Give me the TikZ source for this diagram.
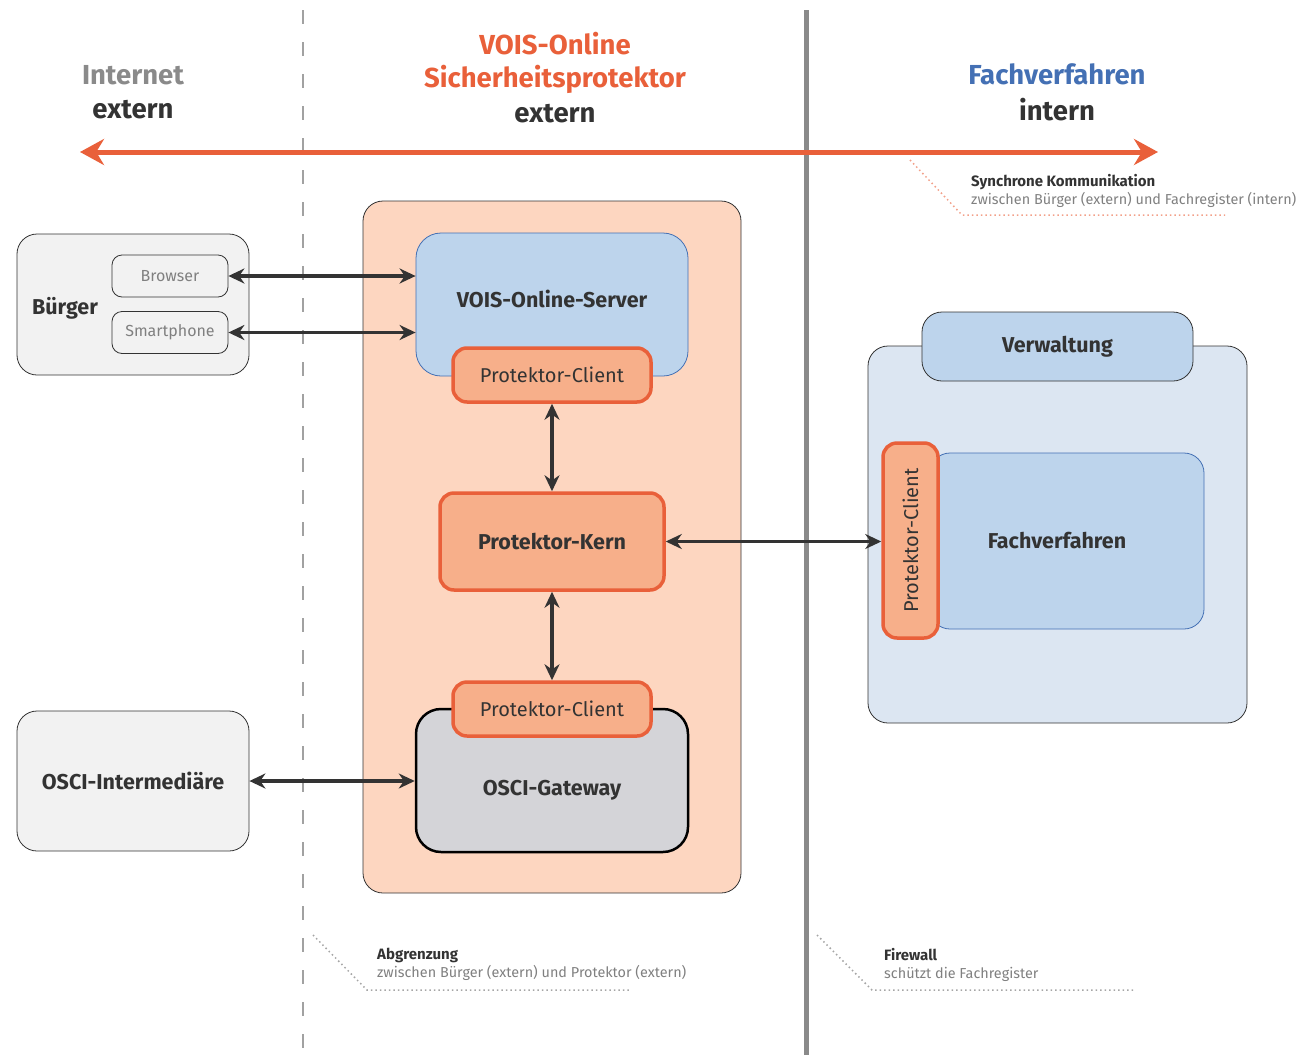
\documentclass[tikz,border=0pt]{standalone}
\usepackage{fontspec}
\setmainfont{Fira Sans}
\usepackage{tikz}
\usetikzlibrary{arrows.meta}

\definecolor{vorange}{HTML}{E9603A}
\definecolor{vpeach}{HTML}{FDD6C0}
\definecolor{vclient}{HTML}{F7AF8A}
\definecolor{vblue}{HTML}{4470B4}
\definecolor{vblueFill}{HTML}{BDD4EC}
\definecolor{vblueLight}{HTML}{DCE6F2}
\definecolor{vgrayFill}{HTML}{F2F2F2}
\definecolor{vgate}{HTML}{D4D4D8}
\definecolor{vdark}{HTML}{333333}
\definecolor{vwall}{HTML}{8A8A8A}

\begin{document}
\begin{tikzpicture}[x=1pt,y=-1pt]
      \useasboundingbox (0,0) rectangle (1301,1055);

      % Grenzen
      \draw[vwall!80, line width=2.5pt, dash pattern=on 14pt off 18pt] (303,10) -- (303,1055);
      \draw[vwall, line width=5pt] (806,10) -- (806,1055);

      % Ueberschriften
      \begin{scope}[every node/.style={font=\bfseries\fontsize{27.5}{32}\selectfont, inner sep=0pt}]
        \node[text=vwall] (h0) at (133,75) {Internet};
        \node[text=vdark] (h1) at (133,110) {extern};
        \node[text=vorange] (h2) at (555,44) {VOIS-Online};
        \node[text=vorange] (h3) at (555,79) {Sicherheitsprotektor};
        \node[text=vdark] (h4) at (555,114) {extern};
        \node[text=vblue] (h5) at (1057,74) {Fachverfahren};
        \node[text=vdark] (h6) at (1057,110) {intern};
      \end{scope}

      \coordinate (l) at (80,152);
      \coordinate (r) at (1158,152);
      \draw[vorange, line width=5pt, {Stealth[length=24pt,width=26pt]}-{Stealth[length=24pt,width=26pt]}] (l) -- (r);

      % Container
      \node[draw=vdark, thick, fill=vpeach, rounded corners=20pt, minimum width=378pt, minimum height=692pt] (c) at (552,547) {};
      \node[draw=vdark, thick, fill=vblueLight, rounded corners=20pt, minimum width=379pt, minimum height=377pt] (v) at (1057.5,534.5) {};

      \begin{scope}[every node/.style={rectangle, rounded corners=20pt, draw=vdark, thick, text=vdark, font=\bfseries\fontsize{21.5}{25}\selectfont}]
        \node[fill=vgrayFill, minimum width=232pt, minimum height=141pt] (bu) at (133,304.5) {};
        \node[fill=vgrayFill, minimum width=232pt, minimum height=140pt] (os) at (133,781) {OSCI-Intermediäre};
        \node[fill=vblueFill, draw=vblue, rounded corners=25pt, minimum width=272pt, minimum height=143pt] (vs) at (552,304.5) {\raisebox{6pt}[\height][\depth]{VOIS-Online-Server}};
        \node[fill=vgate, draw=black, line width=2.5pt, rounded corners=25pt, minimum width=272pt, minimum height=143pt] (gw) at (552,780.5) {\raisebox{-10pt}[\height][\depth]{OSCI-Gateway}};
        \node[fill=vblueFill, minimum width=271pt, minimum height=69pt] (vw) at (1057.5,346.5) {Verwaltung};
        \node[fill=vblueFill, draw=vblue, minimum width=274pt, minimum height=176pt] (fv) at (1067,541) {\hspace*{-20pt}Fachverfahren};
      \end{scope}
      \node[font=\bfseries\fontsize{21.5}{25}\selectfont, text=vdark] (bt) at (65,308) {Bürger};

      \begin{scope}[every node/.style={rectangle, rounded corners=10pt, draw=vdark, thick, fill=vgrayFill, text=gray, minimum width=116pt, minimum height=42pt, font=\fontsize{16}{19}\selectfont}]
        \node (br) at (170,276) {Browser};
        \node (sp) at (170,332.5) {Smartphone};
      \end{scope}

      \begin{scope}[every node/.style={rectangle, rounded corners=14pt, draw=vorange, line width=3.5pt, fill=vclient, text=vdark, font=\fontsize{20}{24}\selectfont}]
        \node[minimum width=198pt, minimum height=54pt] (pc0) at (552,375) {Protektor-Client};
        \node[minimum width=224pt, minimum height=97pt, font=\bfseries\fontsize{21.5}{25}\selectfont] (pk) at (552,541.5) {Protektor-Kern};
        \node[minimum width=198pt, minimum height=54pt] (pc1) at (552,709) {Protektor-Client};
        \node[minimum width=195pt, minimum height=55pt, rotate=90] (pc2) at (910.5,540.5) {Protektor-Client};
      \end{scope}

      \begin{scope}[vdark, line width=3.5pt, {Stealth[length=16pt,width=15pt]}-{Stealth[length=16pt,width=15pt]}]
        \draw (br.east) -- (br.east -| vs.west);
        \draw (sp.east) -- (sp.east -| vs.west);
        \draw (pc0) -- (pk);
        \draw (pk) -- (pc1);
        \draw (pk.east) -- (pk.east -| pc2.north);
        \draw (os.east) -- (os.east -| gw.west);
      \end{scope}

      % Anmerkungen
      \begin{scope}[every node/.style={anchor=north west, align=left, inner sep=0pt, text=vdark, font=\fontsize{14.4}{19}\selectfont}]
        \node (n0) at (971,174) {{\bfseries\fontsize{15}{19}\selectfont Synchrone Kommunikation}\\[-1pt]{\color{gray}zwischen Bürger (extern) und Fachregister (intern)}};
        \node (n1) at (377,948) {{\bfseries\fontsize{15}{19}\selectfont Abgrenzung}\\[-1pt]{\color{gray}zwischen Bürger (extern) und Protektor (extern)}};
        \node (n2) at (884,948) {{\bfseries\fontsize{15}{19}\selectfont Firewall}\\[-1pt]{\color{gray}schützt die Fachregister}};
      \end{scope}

      \begin{scope}[line width=1.5pt, dash pattern=on 1.5pt off 3pt]
        \draw[vorange!60] (910,160) -- (962,215) -- (1225,215);
        \draw[gray!70] (313,935) -- (367,990) -- (630,990);
        \draw[gray!70] (817,935) -- (872,990) -- (1135,990);
      \end{scope}
   \end{tikzpicture}
\end{document}
